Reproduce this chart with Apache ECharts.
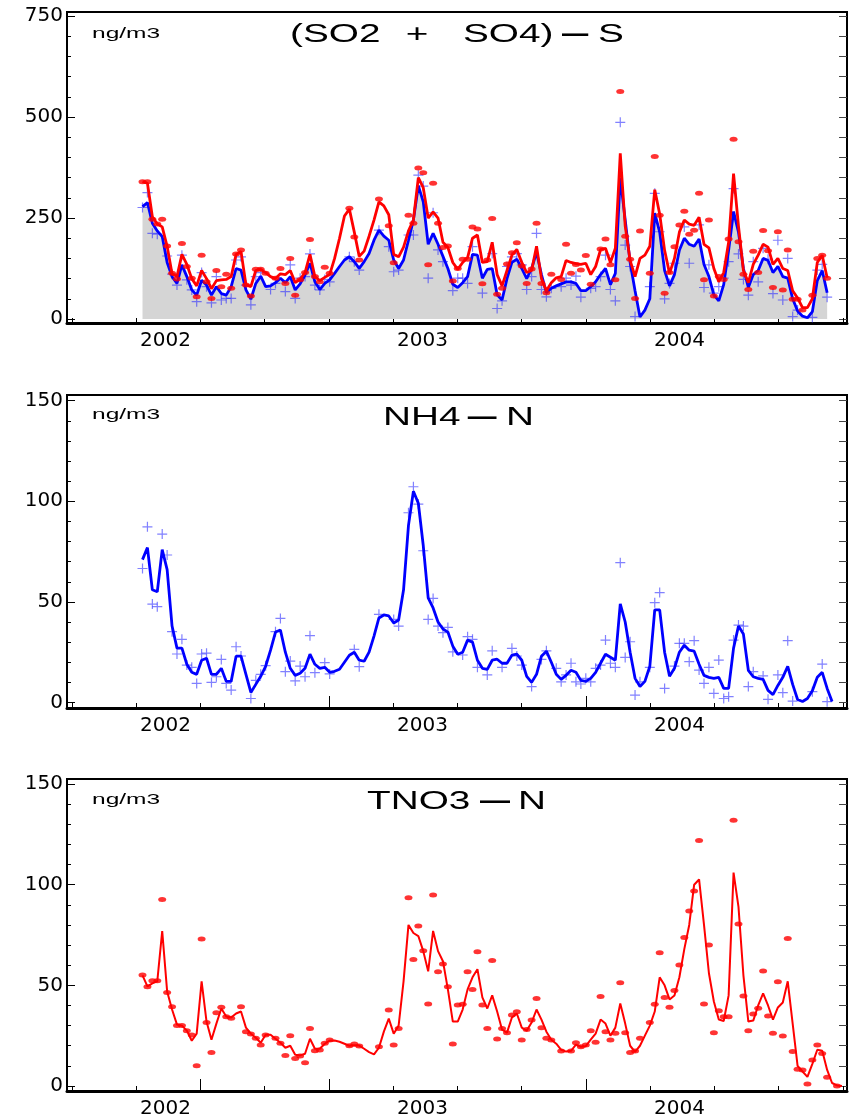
<!DOCTYPE html>
<html>
<head>
<meta charset="utf-8">
<script src="https://cdn.jsdelivr.net/npm/echarts@6/dist/echarts.min.js"></script>
<style>
  html, body { margin: 0; padding: 0; background: #fff; }
  #chart { width: 850px; height: 1120px; }
</style>
</head>
<body>
<div id="chart"></div>
<script>
// weekly samples, first week ~ 10 Jan 2002
const weekStart = 2002.0253
const weekStep = 7 / 365.25

// (SO2 + SO4) - S, ng/m3
const sulfurBlueLine = [
  278, 288, 237, 218, 204, 140, 105, 88, 134, 105,
  72, 59, 96, 84, 59, 80, 63, 59, 80, 125,
  121, 72, 49, 88, 106, 80, 82, 90, 101, 90,
  105, 72, 87, 109, 138, 92, 73, 88, 97, 113,
  130, 146, 154, 142, 125, 142, 162, 195, 220, 205,
  195, 146, 125, 146, 195, 245, 330, 290, 185, 212,
  185, 155, 125, 86, 78, 90, 105, 160, 158, 101,
  123, 125, 60, 47, 100, 140, 148, 125, 100, 125,
  165, 110, 65, 76, 82, 87, 92, 92, 88, 70,
  70, 80, 92, 110, 125, 85, 113, 350, 245, 140,
  70, 5, 22, 50, 262, 215, 120, 82, 110, 170,
  200, 185, 180, 198, 135, 105, 60, 45, 85, 170,
  266, 215, 125, 78, 110, 120, 150, 145, 115, 130,
  105, 101, 50, 20, 7, 3, 18, 95, 120, 65
]
const sulfurRedLine = [
  340, 336, 253, 235, 228, 180, 112, 105, 160, 135,
  100, 82, 120, 100, 75, 95, 97, 98, 105, 160,
  167, 85, 80, 120, 123, 115, 105, 100, 112, 110,
  120, 90, 98, 115, 160, 105, 95, 103, 110, 150,
  200, 255, 272, 215, 155, 168, 205, 245, 290, 280,
  258, 160, 154, 178, 218, 245, 350, 325, 250, 265,
  250, 190, 177, 140, 123, 140, 152, 200, 208, 140,
  142, 190, 110, 82, 120, 158, 172, 140, 115, 120,
  180, 100, 70, 90, 102, 105, 145, 140, 137, 135,
  138, 110, 130, 172, 175, 140, 175, 410, 230, 145,
  105, 150, 158, 180, 320, 260, 170, 113, 150, 215,
  245, 235, 232, 252, 185, 176, 125, 92, 115, 190,
  360, 230, 120, 90, 135, 158, 185, 178, 135, 150,
  125, 120, 70, 52, 28, 28, 50, 140, 158, 102
]
const sulfurRedMarks = [
  340, 340, 247, 235, 247, 181, 113, 99, 187, 130,
  101, 55, 158, 92, 51, 120, 80, 111, 76, 161,
  171, 84, 57, 123, 123, 113, null, 101, 125, 88,
  150, 59, 97, 115, 197, 105, 92, 128, 113, null,
  null, null, 274, 203, 146, null, null, null, 297, null,
  231, 139, null, null, 257, 237, 374, 362, 134, 336,
  237, 177, 181, 94, 125, 148, 148, 228, 223, 87,
  146, 249, 61, 76, 136, 164, 189, 131, 88, 124,
  237, 88, 65, 111, null, 98, 185, 113, 135, 121,
  157, 86, null, 173, 198, 134, 97, 563, 205, 148,
  51, 218, null, 113, 402, 257, 64, 115, 179, 233,
  267, 210, 220, 311, 97, 245, 57, 105, 98, 198,
  445, 191, 111, 73, 168, 115, 219, 169, 78, 216,
  72, 171, 49, 49, 22, null, 59, 150, 158, 101
]
const sulfurBlueMarks = [
  276, 313, 212, 210, null, 156, 111, 84, 158, 97,
  72, 43, 115, 80, 40, 105, 47, 51, 51, 146,
  154, 84, 35, 105, 115, null, 73, 88, null, 68,
  134, 51, 101, 105, 161, 84, 72, 98, 92, null,
  null, null, 154, 142, 121, null, null, null, 220, null,
  179, 117, 121, null, 208, 208, 356, 329, 101, 263,
  171, 142, null, 70, 101, 101, 88, 179, null, 64,
  null, 162, 26, 45, 130, 154, 162, 134, 73, 105,
  212, 73, 55, 76, null, 80, 101, 84, 106, 54,
  null, 76, 80, 105, 158, 73, 45, 487, 183, 130,
  6, null, null, 80, 311, 216, 50, 88, 138, null,
  228, 138, null, 233, 78, 134, 64, 80, 101, 142,
  323, 161, 98, 59, 142, 92, 175, 148, 63, 195,
  47, 150, 6, 22, null, null, 4, 121, 135, 54
]

// NH4 - N, ng/m3
const nh4Line = [
  71, 77, 56, 55, 76, 66, 38, 27, 27, 19,
  15, 14, 21, 22, 14, 14, 17, 10.5, 10.5, 23,
  23, 14, 5, 9, 13, 18, 26, 35, 36, 25,
  17, 13.5, 14.5, 17, 24, 19, 17, 17.5, 15, 15.5,
  16.5, 20, 23.5, 25, 21, 20.5, 25, 33, 42, 43.5,
  43, 39.5, 41, 56, 88, 105, 99, 78, 52, 47,
  40, 36.5, 35, 28, 24, 25, 31, 30, 21, 17,
  16.5, 21, 21.5, 19.5, 19.5, 23.5, 24, 21, 13, 10,
  14, 23, 25.5, 20, 14, 11.5, 13.5, 16, 15, 11,
  10.5, 12, 15, 19.5, 24, 22.5, 21, 49, 40, 25,
  12, 8, 10.5, 18, 46, 46, 25, 13, 17, 25,
  28.5, 26, 25.5, 19, 13.5, 12.5, 12, 12.5, 7, 7,
  27, 38, 34, 16, 12.8, 12, 11.5, 6, 3.9, 8.5,
  12.5, 18, 9, 1.5, 0.5, 2, 5.8, 12.5, 15, 7,
  0.5
]
const nh4Marks = [
  66.6, 87.3, 48.9, 47.6, 83.7, 73.3, 35.2, 24.1, 31.4, 18.6,
  17.5, 9.5, 24.1, 24.5, 10, 12.8, 21.4, 9.5, 6.2, 27.7,
  23.1, null, 2, 11, 14, 18.3, null, 35.2, 41.8, 15.3,
  20.6, 10.7, 18.1, 12.8, 33.2, 14.8, null, 19.8, 14.2, null,
  null, null, null, 26.4, 17.8, null, null, null, 43.8, null,
  null, 41.3, 38, null, 94.3, 107.2, 98.6, 75.4, 41.3, 51.7,
  38, 34.7, 37.3, 25.2, null, 23.6, 32.7, 31.4, 17.5, null,
  13.7, 25.7, null, 17.5, null, 26.9, 23.1, 18.6, null, 7.9,
  null, 21.4, 25.7, null, 17, 10.3, 13.7, 19.5, 10.3, 9.2,
  12, 10.3, 17, 18.6, 31, 19.5, 17.5, 69.5, 22.4, 30.2,
  3.7, 10.3, null, 17.5, 49.6, 54.6, 7, null, 18.1, 29.4,
  29.4, 20.3, 30.7, 16.1, 9.5, 17.5, 4.5, 21.1, 2, 2.9,
  31, 38.5, 38, 7.9, 15.3, null, 13.2, 1.6, null, 13.7,
  4.9, 30.7, 0.7, null, null, null, 5.4, null, 19.1, 0.4,
  null
]

// TNO3 - N, ng/m3
const no3Line = [
  55, 49.5, 51, 52, 77, 47, 38, 30.5, 30, 27.5,
  22.5, 26, 52, 32, 23, 31, 38.5, 34.5, 34, 36,
  37, 29, 26, 24, 21.5, 25.5, 25.5, 23.5, 21.5, 19,
  20, 15.5, 15.2, 16, 23.5, 18.5, 18.5, 21, 22.5, 22.6,
  22, 21, 20, 20.3, 20.1, 18.5, 16.8, 15.7, 19, 27,
  33.5, 26, 30, 52, 80, 76, 74.5, 67, 57, 77,
  67, 62, 48, 32, 32, 38, 48, 54, 58, 44,
  38.5, 45, 37, 28, 26.5, 34, 36, 29, 27.5, 31.5,
  38, 33, 27, 23, 21, 18, 17.1, 17.5, 20.5, 19.5,
  19.8, 23, 26, 33, 31, 25, 29, 41, 31, 20,
  17, 20, 25, 30, 37, 54, 50, 43, 45, 54,
  68, 80, 100, 102.6, 80, 56, 42, 33, 32.3, 45,
  106, 89, 55, 32, 32.5, 40, 46, 40, 33, 39,
  41.5, 52, 31, 10, 7.2, 4.5, 11, 18, 17.5, 8,
  1.5, 0.3, 0
]
const no3Marks = [
  55.1, 49.3, 52.3, 52.3, 92.7, 46.5, 39.4, 30, 30, 27.5,
  25.3, 10.1, 73, 31.6, 16.7, 36.4, 39.1, 34.4, 33.6, null,
  39.4, 27, 25.8, 23.7, 20.4, 25.3, null, 23.7, 21.2, 15.1,
  25, 13.7, 14.9, 11.6, 28.6, 17.5, 17.9, 21.2, 22.8, null,
  null, null, 20, 20.9, 19.9, null, null, null, 19.5, null,
  37.7, 20.4, 28.6, null, 93.5, 62.9, 79.5, 67.2, 40.7, 94.9,
  56.8, 60.6, 49.3, 20.9, 40.2, 40.6, 56.8, 48, 66.7, 40.2,
  28.6, 62.3, 23.3, 28.6, 26.5, 35.3, 36.9, 22.8, 28.1, 32.8,
  43.5, 29, 23.7, 22.8, null, 17.4, null, 17.4, 21.5, 19.5,
  20.4, 27.5, 21.7, 44.4, 27, 22.8, 26.2, 51.3, 26.5, 16.6,
  17.4, 23.7, null, 31.5, 40.6, 66.2, 44, 39.1, 47.4, 60.1,
  73.8, 86.9, 96.9, 121.9, 40.7, 70, 26.5, 37.4, 34.4, 34.4,
  132, 80.5, 44.7, 27.5, 35.8, 38.6, 57.1, 34.8, 26.2, 51.8,
  24.8, 73.3, 17.1, 8.3, 8, 1, 12.9, 20.4, 16.2, 4.3,
  null, 0, null
]

// axis ticks and labels
const quarterTicks = [2001.75, 2002, 2002.25, 2002.5, 2002.75, 2003, 2003.25, 2003.5, 2003.75, 2004, 2004.25, 2004.5, 2004.75]
const yearLabels = [2002, 2003, 2004]
const sulfurTicks = [0, 50, 100, 150, 200, 250, 300, 350, 400, 450, 500, 550, 600, 650, 700, 750]
const sulfurLabels = [0, 250, 500, 750]
const nitroTicks = [0, 10, 20, 30, 40, 50, 60, 70, 80, 90, 100, 110, 120, 130, 140, 150]
const nitroLabels = [0, 50, 100, 150]

const X_MIN = 2001.7315
const X_MAX = 2004.7665
const FONT = 'DejaVu Sans'

const toPairs = function (values) {
  const out = []
  values.forEach((v, i) => {
    if (v !== null) out.push([weekStart + i * weekStep, v])
  })
  return out
}

const panels = [
  {top: 12, height: 311, yMin: -9.9, yMax: 760, ticks: sulfurTicks, labels: sulfurLabels, tall: []},
  {top: 395, height: 313, yMin: -2.73, yMax: 152.8, ticks: nitroTicks, labels: nitroLabels, tall: [2002.75, 2003.75]},
  {top: 779, height: 312, yMin: -2.48, yMax: 152.5, ticks: nitroTicks, labels: nitroLabels, tall: [2002.25, 2002.75, 2003.75]}
]

const grid = []
const xAxis = []
const yAxis = []

panels.forEach((p, g) => {
  grid.push({
    left: 67, top: p.top, width: 780, height: p.height,
    show: true, borderColor: '#000', borderWidth: 2,
    containLabel: false, outerBoundsMode: 'none'
  })

  xAxis.push({
    gridIndex: g, type: 'value', position: 'bottom', min: X_MIN, max: X_MAX,
    axisLine: {show: true, onZero: false, lineStyle: {color: '#000', width: 3}},
    axisTick: {show: true, inside: true, length: 5, customValues: quarterTicks, lineStyle: {color: '#000', width: 1}},
    axisLabel: {
      customValues: yearLabels.map(y => y + 0.115),
      formatter: v => String(Math.floor(v)),
      color: '#000', fontFamily: FONT, fontSize: 20, margin: 8
    },
    splitLine: {show: false}
  })
  xAxis.push({
    gridIndex: g, type: 'value', position: 'bottom', min: X_MIN, max: X_MAX,
    axisLine: {show: false, onZero: false},
    axisTick: {show: p.tall.length > 0, inside: true, length: 12, customValues: p.tall, lineStyle: {color: '#000', width: 1}},
    axisLabel: {show: false},
    splitLine: {show: false}
  })

  yAxis.push({
    gridIndex: g, type: 'value', position: 'left', min: p.yMin, max: p.yMax,
    axisLine: {show: true, onZero: false, lineStyle: {color: '#000', width: 2}},
    axisTick: {show: true, inside: true, length: 4, customValues: p.ticks, lineStyle: {color: '#000', width: 1}},
    axisLabel: {customValues: p.labels, color: '#000', fontFamily: FONT, fontSize: 20, margin: 4},
    splitLine: {show: false}
  })
  yAxis.push({
    gridIndex: g, type: 'value', position: 'left', min: p.yMin, max: p.yMax,
    axisLine: {show: false, onZero: false},
    axisTick: {show: true, inside: true, length: 8, customValues: p.labels, lineStyle: {color: '#000', width: 1}},
    axisLabel: {show: false},
    splitLine: {show: false}
  })
  yAxis.push({
    gridIndex: g, type: 'value', position: 'right', min: p.yMin, max: p.yMax,
    axisLine: {show: true, onZero: false, lineStyle: {color: '#000', width: 2}},
    axisTick: {show: true, inside: true, length: 8, customValues: p.ticks, lineStyle: {color: '#444', width: 1}},
    axisLabel: {show: false},
    splitLine: {show: false}
  })
})

const CROSS = 'path://M4.4,0h1.2v4.4h4.4v1.2h-4.4v4.4h-1.2v-4.4h-4.4v-1.2h4.4z'
const crossStyle = {color: 'rgba(45,45,255,0.75)'}

const lineSeries = function (g, values, color, width, z) {
  return {
    type: 'line', xAxisIndex: g * 2, yAxisIndex: g * 3, data: toPairs(values),
    symbol: 'none', lineStyle: {color: color, width: width}, z: z, silent: true
  }
}
const markSeries = function (g, values, symbol, size, style, z) {
  return {
    type: 'scatter', xAxisIndex: g * 2, yAxisIndex: g * 3, data: toPairs(values),
    symbol: symbol, symbolSize: size, itemStyle: style, z: z, silent: true
  }
}

const series = [
  // gray area below the blue sulfur line
  {
    type: 'line', xAxisIndex: 0, yAxisIndex: 0, data: toPairs(sulfurBlueLine),
    symbol: 'none', lineStyle: {width: 0}, areaStyle: {color: '#d5d5d5', opacity: 1}, z: 1, silent: true
  },
  markSeries(0, sulfurBlueMarks, CROSS, 10, crossStyle, 2),
  lineSeries(0, sulfurBlueLine, '#0000ff', 2.8, 3),
  lineSeries(0, sulfurRedLine, '#ff0000', 2.8, 4),
  markSeries(0, sulfurRedMarks, 'circle', [8, 5], {color: '#ff0000'}, 5),

  markSeries(1, nh4Marks, CROSS, 10, crossStyle, 2),
  lineSeries(1, nh4Line, '#0000ff', 2.8, 3),

  lineSeries(2, no3Line, '#ff0000', 2, 3),
  markSeries(2, no3Marks, 'circle', [8, 5], {color: '#ff0000'}, 4)
]

// titles: wide lettering, so each piece is stretched horizontally
const titleParts = [
  {text: '(SO2', x: 290, y: 35, align: 'left', sx: 1.55},
  {text: '+', x: 417, y: 35, align: 'center', sx: 1.55},
  {text: 'SO4)', x: 463, y: 35, align: 'left', sx: 1.55},
  {text: '—', x: 575, y: 35, align: 'center', sx: 1.05, bold: true},
  {text: 'S', x: 598, y: 35, align: 'left', sx: 1.55},
  {text: 'NH4', x: 383, y: 418, align: 'left', sx: 1.55},
  {text: '—', x: 482, y: 418, align: 'center', sx: 1.15, bold: true},
  {text: 'N', x: 506, y: 418, align: 'left', sx: 1.55},
  {text: 'TNO3', x: 367, y: 802, align: 'left', sx: 1.55},
  {text: '—', x: 495, y: 802, align: 'center', sx: 1.2, bold: true},
  {text: 'N', x: 518, y: 802, align: 'left', sx: 1.55}
]
const unitLabels = [34, 415, 800]

const graphic = []
titleParts.forEach(t => {
  graphic.push({
    type: 'text', x: t.x, y: t.y, scaleX: t.sx, silent: true,
    style: {
      text: t.text, fill: '#000', fontFamily: 'Liberation Sans', fontSize: 25,
      fontWeight: t.bold ? 'bold' : 'normal',
      align: t.align, verticalAlign: 'middle', textAlign: t.align, textVerticalAlign: 'middle'
    }
  })
})
unitLabels.forEach(y => {
  graphic.push({
    type: 'text', x: 92, y: y, scaleX: 1.75, silent: true,
    style: {
      text: 'ng/m3', fill: '#000', fontFamily: 'Liberation Sans', fontSize: 14,
      align: 'left', verticalAlign: 'middle', textAlign: 'left', textVerticalAlign: 'middle'
    }
  })
})

const chart = echarts.init(document.getElementById('chart'), null, {renderer: 'canvas'})
chart.setOption({
  animation: false,
  backgroundColor: '#fff',
  grid: grid,
  xAxis: xAxis,
  yAxis: yAxis,
  series: series,
  graphic: graphic
})
</script>
</body>
</html>
